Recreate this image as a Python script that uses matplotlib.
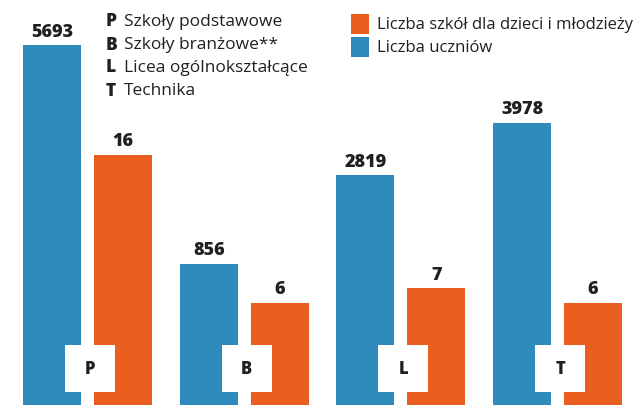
import matplotlib
matplotlib.use("Agg")
import matplotlib.pyplot as plt
import matplotlib.patches as patches
import matplotlib.transforms as mtransforms
import numpy as np

# data
letters = ["P", "B", "L", "T"]
school_types = ["Szkoły podstawowe", "Szkoły branżowe**", "Licea ogólnokształcące", "Technika"]
students = [5693, 856, 2819, 3978]
schools = [16, 6, 7, 6]
legend_labels = ["Liczba szkół dla dzieci i młodzieży", "Liczba uczniów"]

BLUE = "#2E8BBC"
ORANGE = "#EA5F20"
TEXT = "#231F20"
W, H = 636, 406

plt.rcParams["font.family"] = ["Open Sans", "DejaVu Sans"]

fig = plt.figure(figsize=(W / 100, H / 100), dpi=100)
ax = fig.add_axes([0, 0, 1, 1])
ax2 = ax.twinx()

x = np.arange(len(letters))
bw = 58 / 156.7
off = 71 / 156.7

# each series has its own (truncated) scale, like the infographic
s_lo, s_hi = -2261, 6712
k_lo, k_hi = -0.892, 26.54

ax.bar(x, np.array(students) - s_lo, bottom=s_lo, width=bw, color=BLUE, align="center")
ax2.bar(x + off, np.array(schools) - k_lo, bottom=k_lo, width=bw, color=ORANGE, align="center")
ax.set_ylim(s_lo, s_hi)
ax2.set_ylim(k_lo, k_hi)
for a in (ax, ax2):
    a.set_xlim(-52 / 156.7, (W - 52) / 156.7)
    a.axis("off")

for xi, v in zip(x, students):
    ax.annotate(str(v), (xi, v), xytext=(0, 4), textcoords="offset points",
                ha="center", va="bottom", fontsize=13, fontweight="heavy", color=TEXT)
for xi, v in zip(x + off, schools):
    ax2.annotate(str(v), (xi, v), xytext=(0, 4), textcoords="offset points",
                 ha="center", va="bottom", fontsize=13, fontweight="heavy", color=TEXT)

# white letter boxes at the foot of each pair
trans = mtransforms.blended_transform_factory(ax2.transData, ax2.transAxes)
box_w = 50 / 156.7
for xi, lt in zip(x + 38 / 156.7, letters):
    ax2.add_patch(patches.Rectangle((xi - box_w / 2, 13 / H), box_w, 47 / H,
                                    transform=trans, facecolor="white", edgecolor="none", zorder=5))
    ax2.text(xi, 36.5 / H, lt, transform=trans, ha="center", va="center",
             fontsize=12, fontweight="heavy", color=TEXT, zorder=6)

# letter key
for i, (lt, name) in enumerate(zip(letters, school_types)):
    yy = 1 - (22 + i * 23) / H
    fig.text(106 / W, yy, lt, ha="left", va="center", fontsize=12.5, fontweight="heavy", color=TEXT)
    fig.text(124 / W, yy, name, ha="left", va="center", fontsize=12.5, color=TEXT)

# series legend
for i, (lab, c) in enumerate(zip(legend_labels, [ORANGE, BLUE])):
    top = 15 + i * 23
    fig.patches.append(patches.Rectangle((351 / W, 1 - (top + 20) / H), 18 / W, 20 / H,
                                         transform=fig.transFigure, facecolor=c, edgecolor="none"))
    fig.text(377 / W, 1 - (top + 10) / H, lab, ha="left", va="center", fontsize=12, color=TEXT)

fig.savefig("out.png", dpi=100)
